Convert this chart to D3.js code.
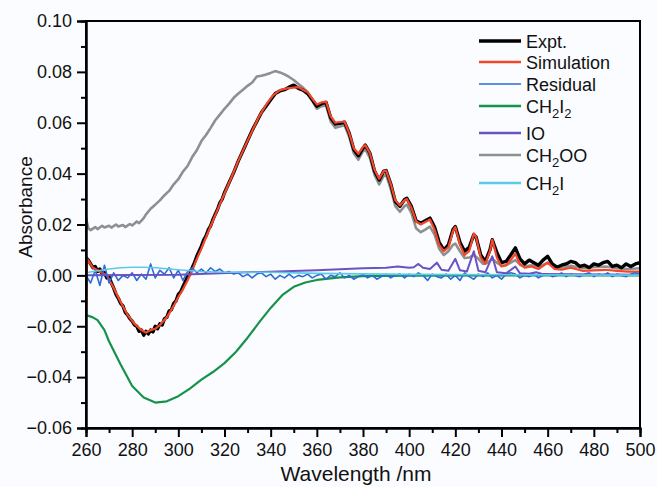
<!DOCTYPE html>
<html>
<head>
<meta charset="utf-8">
<script src="https://cdn.jsdelivr.net/npm/d3@7"></script>
<style>
	body { margin: 0; background: #fbfcff; }
	svg { display: block; font-family: "Liberation Sans", Arial, sans-serif; }
</style>
</head>
<body>
<div id="chart"></div>
<script>
// ---- data ----
var expt = [[260,0.0070],[261,0.0060],[262,0.0045],[263,0.0030],[264,0.0035],[265,0.0015],[266,0.0025],[267,0.0005],[268,0.0010],[269,-0.0010],[270,-0.0005],[271,-0.0030],[272,-0.0050],[273,-0.0075],[274,-0.0090],[275,-0.0110],[276,-0.0120],[277,-0.0145],[278,-0.0155],[279,-0.0170],[280,-0.0180],[281,-0.0195],[282,-0.0200],[283,-0.0220],[284,-0.0215],[285,-0.0235],[286,-0.0220],[287,-0.0230],[288,-0.0215],[289,-0.0222],[290,-0.0200],[291,-0.0210],[292,-0.0190],[293,-0.0195],[294,-0.0170],[295,-0.0165],[296,-0.0140],[297,-0.0135],[298,-0.0110],[299,-0.0100],[300,-0.0075],[301,-0.0065],[302,-0.0045],[303,-0.0025],[304,-0.0005],[305,0.0005],[306,0.0030],[307,0.0050],[308,0.0075],[309,0.0095],[310,0.0115],[311,0.0140],[312,0.0155],[313,0.0180],[314,0.0195],[315,0.0220],[316,0.0240],[317,0.0260],[318,0.0285],[319,0.0300],[320,0.0325],[322,0.0365],[324,0.0405],[326,0.0450],[328,0.0490],[330,0.0530],[332,0.0570],[334,0.0605],[336,0.0640],[338,0.0665],[340,0.0690],[342,0.0715],[344,0.0725],[346,0.0730],[348,0.0740],[350,0.0748],[352,0.0735],[354,0.0728],[356,0.0715],[358,0.0690],[360,0.0665],[362,0.0675],[364,0.0680],[366,0.0620],[368,0.0595],[370,0.0598],[372,0.0602],[374,0.0560],[376,0.0495],[378,0.0470],[380,0.0500],[381,0.0512],[383,0.0480],[385,0.0410],[387,0.0375],[389,0.0410],[390,0.0412],[392,0.0360],[394,0.0290],[396,0.0272],[398,0.0298],[399,0.0303],[401,0.0270],[403,0.0215],[405,0.0205],[407,0.0215],[409,0.0225],[411,0.0190],[413,0.0130],[415,0.0100],[417,0.0120],[419,0.0180],[420,0.0192],[422,0.0130],[424,0.0095],[426,0.0110],[428,0.0160],[429,0.0150],[431,0.0080],[433,0.0055],[435,0.0100],[436,0.0140],[438,0.0090],[440,0.0050],[442,0.0055],[444,0.0080],[446,0.0108],[448,0.0065],[450,0.0045],[452,0.0060],[454,0.0050],[456,0.0040],[458,0.0060],[460,0.0075],[462,0.0045],[464,0.0032],[466,0.0040],[468,0.0045],[470,0.0055],[472,0.0050],[474,0.0035],[476,0.0040],[478,0.0030],[480,0.0045],[482,0.0040],[484,0.0050],[486,0.0055],[488,0.0035],[490,0.0040],[492,0.0030],[494,0.0045],[496,0.0035],[498,0.0045],[500,0.0050]];

var simulation = [[260,-0.0140],[260.5,0.0065],[263,0.0030],[266,0.0015],[269,0.0000],[272,-0.0050],[275,-0.0105],[278,-0.0155],[281,-0.0190],[284,-0.0215],[286,-0.0225],[288,-0.0215],[290,-0.0210],[292,-0.0195],[295,-0.0165],[298,-0.0120],[300,-0.0085],[302,-0.0055],[304,-0.0020],[306,0.0020],[308,0.0065],[310,0.0105],[312,0.0150],[315,0.0215],[318,0.0280],[320,0.0322],[323,0.0385],[326,0.0450],[329,0.0510],[332,0.0568],[335,0.0625],[338,0.0670],[341,0.0708],[344,0.0728],[347,0.0735],[350,0.0738],[352,0.0740],[354,0.0730],[356,0.0720],[358,0.0695],[360,0.0672],[362,0.0680],[364,0.0683],[366,0.0625],[368,0.0600],[370,0.0603],[372,0.0605],[374,0.0560],[376,0.0500],[378,0.0478],[380,0.0505],[381,0.0512],[383,0.0480],[385,0.0415],[387,0.0380],[389,0.0410],[390,0.0412],[392,0.0360],[394,0.0295],[396,0.0275],[398,0.0295],[399,0.0300],[401,0.0265],[403,0.0212],[405,0.0200],[407,0.0210],[409,0.0220],[411,0.0180],[413,0.0120],[415,0.0095],[417,0.0110],[419,0.0175],[420,0.0190],[422,0.0120],[424,0.0080],[426,0.0095],[428,0.0165],[429,0.0150],[431,0.0070],[433,0.0045],[435,0.0095],[436,0.0140],[438,0.0070],[440,0.0035],[442,0.0040],[444,0.0060],[446,0.0085],[448,0.0045],[450,0.0030],[453,0.0035],[456,0.0025],[460,0.0050],[463,0.0025],[466,0.0022],[470,0.0030],[475,0.0018],[480,0.0020],[485,0.0022],[490,0.0018],[495,0.0015],[500,0.0015]];

var residual = [[260,0.0000],[262,-0.0030],[264,0.0020],[266,-0.0040],[268,0.0040],[270,-0.0030],[272,0.0010],[274,-0.0020],[276,0.0000],[278,-0.0010],[280,0.0010],[282,-0.0020],[284,0.0005],[286,-0.0015],[288,0.0045],[290,-0.0010],[292,0.0020],[294,0.0005],[296,0.0030],[298,-0.0010],[300,0.0020],[302,-0.0020],[304,0.0015],[306,0.0030],[308,0.0010],[310,0.0025],[312,0.0010],[314,0.0030],[316,0.0015],[318,0.0025],[320,0.0010],[322,0.0015],[324,0.0005],[326,0.0010],[328,-0.0005],[330,0.0005],[332,-0.0010],[334,0.0005],[336,0.0010],[338,-0.0005],[340,0.0005],[342,-0.0015],[344,0.0000],[346,-0.0010],[348,0.0005],[350,-0.0010],[352,0.0000],[354,-0.0005],[356,0.0005],[358,-0.0010],[360,0.0000],[362,0.0005],[364,-0.0015],[366,0.0000],[368,-0.0005],[370,0.0010],[372,-0.0010],[374,0.0000],[376,-0.0015],[378,-0.0005],[380,0.0005],[382,-0.0010],[384,0.0000],[386,-0.0015],[388,-0.0005],[390,0.0005],[392,-0.0010],[394,0.0000],[396,0.0005],[398,-0.0010],[400,0.0005],[402,-0.0005],[404,0.0010],[406,0.0000],[408,-0.0020],[410,0.0005],[412,-0.0005],[414,-0.0010],[416,0.0005],[418,-0.0015],[420,0.0000],[422,-0.0020],[424,0.0010],[426,-0.0005],[428,-0.0015],[430,0.0005],[432,-0.0005],[434,0.0010],[436,-0.0010],[438,0.0000],[440,-0.0015],[442,0.0005],[444,0.0010],[446,0.0005],[448,-0.0010],[450,0.0000],[452,-0.0005],[454,0.0005],[456,-0.0010],[458,0.0000],[460,0.0005],[462,-0.0005],[464,0.0000],[466,0.0010],[468,-0.0005],[470,0.0005],[472,0.0000],[474,-0.0005],[476,0.0005],[478,0.0010],[480,-0.0005],[482,0.0005],[484,0.0000],[486,0.0010],[488,-0.0005],[490,0.0005],[492,0.0000],[494,-0.0005],[496,0.0005],[498,0.0010],[500,0.0005]];

var ch2i2 = [[260,-0.0156],[263,-0.0165],[265,-0.0176],[268,-0.0215],[270,-0.0260],[275,-0.0350],[280,-0.0435],[285,-0.0480],[290,-0.0500],[295,-0.0495],[300,-0.0475],[305,-0.0445],[310,-0.0410],[315,-0.0380],[320,-0.0345],[325,-0.0300],[330,-0.0245],[335,-0.0185],[340,-0.0128],[345,-0.0078],[350,-0.0045],[355,-0.0028],[360,-0.0018],[370,-0.0008],[380,-0.0003],[400,-0.0001],[500,0.0000]];

var io = [[260,0.0000],[300,0.0002],[330,0.0012],[360,0.0020],[380,0.0028],[390,0.0030],[395,0.0035],[400,0.0030],[402,0.0032],[404,0.0045],[406,0.0030],[409,0.0025],[412,0.0050],[414,0.0022],[417,0.0018],[420,0.0065],[422,0.0020],[425,0.0015],[428,0.0095],[430,0.0018],[433,0.0012],[436,0.0075],[438,0.0012],[442,0.0008],[446,0.0035],[448,0.0008],[452,0.0006],[455,0.0012],[458,0.0005],[470,0.0004],[500,0.0002]];

var ch2oo = [[260,0.0225],[261,0.0185],[262,0.0178],[264,0.0190],[265,0.0182],[267,0.0195],[268,0.0188],[270,0.0195],[271,0.0188],[273,0.0200],[274,0.0192],[276,0.0198],[277,0.0190],[279,0.0202],[280,0.0196],[282,0.0212],[283,0.0205],[285,0.0225],[286,0.0240],[288,0.0262],[290,0.0278],[292,0.0295],[294,0.0315],[296,0.0332],[298,0.0358],[300,0.0378],[302,0.0408],[304,0.0430],[306,0.0465],[308,0.0492],[310,0.0528],[312,0.0552],[314,0.0580],[316,0.0610],[318,0.0632],[320,0.0655],[322,0.0675],[324,0.0698],[326,0.0715],[328,0.0730],[330,0.0745],[332,0.0758],[334,0.0782],[336,0.0785],[338,0.0790],[340,0.0796],[342,0.0803],[344,0.0798],[346,0.0790],[348,0.0780],[350,0.0768],[352,0.0752],[354,0.0738],[356,0.0720],[358,0.0688],[360,0.0655],[362,0.0665],[364,0.0668],[366,0.0605],[368,0.0580],[370,0.0585],[372,0.0590],[374,0.0545],[376,0.0480],[378,0.0455],[380,0.0488],[381,0.0495],[383,0.0462],[385,0.0395],[387,0.0358],[389,0.0392],[390,0.0395],[392,0.0340],[394,0.0272],[396,0.0250],[398,0.0272],[399,0.0278],[401,0.0245],[403,0.0185],[405,0.0170],[407,0.0180],[409,0.0192],[411,0.0160],[413,0.0105],[415,0.0080],[417,0.0095],[419,0.0120],[420,0.0125],[422,0.0095],[424,0.0068],[426,0.0070],[428,0.0080],[430,0.0065],[432,0.0045],[434,0.0050],[436,0.0065],[438,0.0050],[440,0.0038],[442,0.0040],[444,0.0050],[446,0.0060],[448,0.0042],[450,0.0035],[453,0.0040],[456,0.0032],[460,0.0050],[463,0.0032],[466,0.0030],[470,0.0038],[475,0.0028],[480,0.0032],[485,0.0035],[490,0.0028],[495,0.0025],[500,0.0028]];

var ch2i = [[260,0.0010],[265,0.0018],[270,0.0025],[275,0.0030],[280,0.0032],[285,0.0032],[290,0.0030],[295,0.0026],[300,0.0022],[305,0.0018],[310,0.0015],[320,0.0012],[330,0.0012],[340,0.0012],[350,0.0010],[360,0.0008],[380,0.0006],[400,0.0004],[450,0.0002],[500,0.0001]];

var xTicks = [260, 280, 300, 320, 340, 360, 380, 400, 420, 440, 460, 480, 500];
var yTicks = [-0.06, -0.04, -0.02, 0.00, 0.02, 0.04, 0.06, 0.08, 0.10];

var series = [
	{ name: "CH2OO",      data: ch2oo,      color: "#8e9090", width: 2.6 },
	{ name: "Expt.",      data: expt,       color: "#000000", width: 3.4 },
	{ name: "Simulation", data: simulation, color: "#f4472a", width: 2.2 },
	{ name: "CH2I2",      data: ch2i2,      color: "#17924a", width: 2.2 },
	{ name: "Residual",   data: residual,   color: "#2e6bd4", width: 1.6 },
	{ name: "IO",         data: io,         color: "#6a52c2", width: 2.0 },
	{ name: "CH2I",       data: ch2i,       color: "#5ccbe6", width: 1.6 }
];

var legendOrder = [
	{ key: "Expt.",      label: ["Expt."],                   y: 41 },
	{ key: "Simulation", label: ["Simulation"],              y: 62 },
	{ key: "Residual",   label: ["Residual"],                y: 84 },
	{ key: "CH2I2",      label: ["CH", "2", "I", "2"],       y: 106 },
	{ key: "IO",         label: ["IO"],                      y: 133 },
	{ key: "CH2OO",      label: ["CH", "2", "OO"],           y: 155 },
	{ key: "CH2I",       label: ["CH", "2", "I"],            y: 183 }
];

// ---- layout ----
var W = 657, H = 487;
var margin = { top: 21, right: 17, bottom: 59, left: 86 };
var width = W - margin.left - margin.right,
	height = H - margin.top - margin.bottom;

var svg = d3.select("#chart").append("svg")
	.attr("width", W)
	.attr("height", H);

var g = svg.append("g")
	.attr("transform", "translate(" + margin.left + "," + margin.top + ")");

var x = d3.scaleLinear().domain([260, 500]).range([0, width]);
var y = d3.scaleLinear().domain([-0.06, 0.10]).range([height, 0]);

g.append("clipPath").attr("id", "clip")
	.append("rect").attr("width", width).attr("height", height);

var line = d3.line()
	.x(function(d) { return x(d[0]); })
	.y(function(d) { return y(d[1]); });

var lines = g.append("g").attr("clip-path", "url(#clip)");
series.forEach(function(s) {
	lines.append("path")
		.datum(s.data)
		.attr("d", line)
		.attr("fill", "none")
		.attr("stroke", s.color)
		.attr("stroke-width", s.width)
		.attr("stroke-linejoin", "round");
});

// frame
g.append("rect")
	.attr("width", width).attr("height", height)
	.attr("fill", "none").attr("stroke", "#000").attr("stroke-width", 2);

// axes, major + minor ticks
var fmt = d3.format(".2f");
var xMinor = d3.range(270, 500, 20);
var yMinor = d3.range(-0.05, 0.10, 0.02);

var xAxis = g.append("g").attr("transform", "translate(0," + height + ")")
	.call(d3.axisBottom(x).tickValues(xTicks).tickSize(9).tickPadding(6).tickFormat(d3.format("d")));
var xAxisMinor = g.append("g").attr("transform", "translate(0," + height + ")")
	.call(d3.axisBottom(x).tickValues(xMinor).tickSize(5).tickFormat(""));
var yAxis = g.append("g")
	.call(d3.axisLeft(y).tickValues(yTicks).tickSize(9).tickPadding(5).tickFormat(fmt));
var yAxisMinor = g.append("g")
	.call(d3.axisLeft(y).tickValues(yMinor).tickSize(5).tickFormat(""));

[xAxis, xAxisMinor, yAxis, yAxisMinor].forEach(function(a) {
	a.select(".domain").attr("stroke-width", 2);
	a.selectAll(".tick line").attr("stroke-width", 2);
	a.selectAll("text")
		.attr("font-size", 18)
		.attr("font-family", "Liberation Sans, Arial, sans-serif")
		.attr("fill", "#111");
});

// axis titles
svg.append("text")
	.attr("transform", "translate(32,207) rotate(-90)")
	.attr("text-anchor", "middle")
	.attr("font-size", 19)
	.attr("fill", "#111")
	.text("Absorbance");

svg.append("text")
	.attr("x", 356).attr("y", 481)
	.attr("text-anchor", "middle")
	.attr("font-size", 21)
	.attr("fill", "#111")
	.text("Wavelength /nm");

// legend
var legend = svg.append("g");
legendOrder.forEach(function(item) {
	var s = series.filter(function(d) { return d.name == item.key; })[0];
	legend.append("line")
		.attr("x1", 479).attr("x2", 521)
		.attr("y1", item.y).attr("y2", item.y)
		.attr("stroke", s.color)
		.attr("stroke-width", item.key == "Expt." ? 3.4 : (item.key == "Residual" ? 1.6 : 2.4));

	var t = legend.append("text")
		.attr("x", 526).attr("y", item.y + 6.5)
		.attr("font-size", 18)
		.attr("fill", "#111");
	item.label.forEach(function(part, i) {
		var sub = (part == "2");
		t.append("tspan")
			.attr("font-size", sub ? 13 : 18)
			.attr("dy", sub ? 5 : (i > 0 ? -5 : 0))
			.text(part);
	});
});
</script>
</body>
</html>
